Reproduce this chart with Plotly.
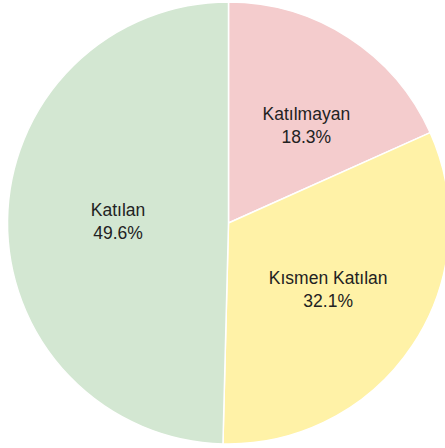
import plotly.graph_objects as go

labels = ["Katılmayan", "Kısmen Katılan", "Katılan"]
values = [18.3, 32.1, 49.6]
colors = ["#f4cccd", "#fff2a7", "#d3e7d2"]

W, H = 450, 448
fig = go.Figure(go.Pie(
    labels=labels,
    values=values,
    sort=False,
    direction="clockwise",
    rotation=0,
    marker=dict(colors=colors, line=dict(color="white", width=1.5)),
    texttemplate=["&nbsp;<br>&nbsp;<br>%{label}<br>%{percent:.1%}",
                  "%{label}<br>%{percent:.1%}",
                  "%{label}<br>%{percent:.1%}"],
    textposition="inside",
    insidetextorientation="horizontal",
    textfont=dict(family="Liberation Sans, Arial, sans-serif", size=17.5, color="#222222"),
    domain=dict(x=[7 / W, 1], y=[4 / H, 446 / H]),
    showlegend=False,
    hoverinfo="label+percent",
))
fig.update_layout(
    width=W, height=H,
    margin=dict(l=0, r=0, t=0, b=0),
    paper_bgcolor="white",
    plot_bgcolor="white",
    showlegend=False,
)
fig.write_html("out.html", config={"displayModeBar": False},
               post_script="document.body.style.margin='0';document.body.style.overflow='hidden';document.documentElement.style.overflow='hidden';")
